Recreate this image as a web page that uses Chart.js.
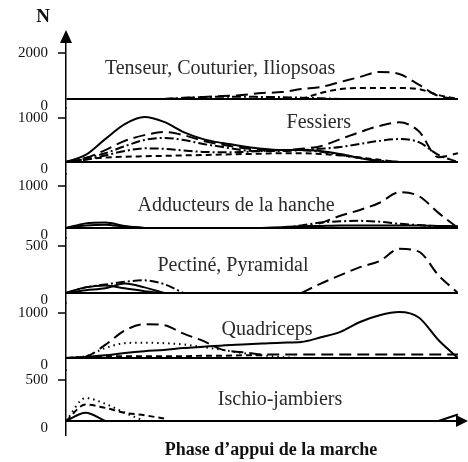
<!DOCTYPE html>
<html>
<head>
<meta charset="utf-8">
<script src="https://cdn.jsdelivr.net/npm/chart.js@4/dist/chart.umd.min.js"></script>
<style>
  html, body { margin: 0; padding: 0; background: #fff; }
  #wrap { width: 468px; height: 462px; }
</style>
</head>
<body>
<div id="wrap"><canvas id="forces" width="468" height="462"></canvas></div>
<script>
// stance phase, % (x) — muscle forces in N per panel
const phase = [0, 5, 10, 15, 20, 25, 30, 35, 40, 45, 50, 55, 60, 65, 70, 75, 80, 85, 90, 95, 100];
const muscles = ["Tenseur, Couturier, Iliopsoas", "Fessiers", "Adducteurs de la hanche",
                 "Pectiné, Pyramidal", "Quadriceps", "Ischio-jambiers"];
const tickTops = [2000, 1000, 1000, 500, 1000, 500];
const xTitle = "Phase d\u2019appui de la marche";

// Tenseur, Couturier, Iliopsoas
const tcLong    = [null, null, null, null, null, 0, 40, 90, 130, 175, 260, 300, 430, 520, 740, 960, 1175, 1090, 620, 130, 0];
const tcShort   = [null, null, null, null, null, null, null, null, null, null, null, null, 0, 260, 430, 480, 480, 480, 430, 175, 0];
const tcDashDot = [null, null, null, null, null, 0, 50, 80, 100, 100, 90, 80, 60, 30, 0, null, null, null, null, null, null];

// Fessiers
const fesSolid   = [0, 160, 520, 860, 1020, 910, 680, 520, 430, 360, 300, 270, 270, 250, 180, 90, 20, 0, null, null, null];
const fesLong    = [0, 90, 270, 480, 610, 680, 610, 480, 390, 320, 270, 270, 300, 360, 520, 680, 820, 900, 700, 110, 200];
const fesDashDot = [0, 90, 200, 360, 500, 545, 500, 410, 340, 270, 250, 250, 270, 300, 340, 410, 480, 520, 450, 160, 0];
const fesDot     = [0, 50, 150, 250, 310, 300, 260, 230, 220, 230, 250, 270, 270, 230, 160, 90, 30, 0, null, null, null];
const fesLow     = [0, 60, 100, 120, 130, 140, 150, 160, 170, 180, 190, 200, 200, 180, 150, 100, 50, 0, null, null, null];

// Adducteurs de la hanche
const addLong    = [null, null, null, null, null, null, null, null, null, null, null, null, 0, 120, 290, 430, 600, 850, 760, 360, 0];
const addDashDot = [null, null, null, null, null, null, null, null, null, null, null, 0, 60, 130, 160, 170, 150, 100, 70, 40, 0];
const addSolidA  = [0, 110, 130, 50, 0, null, null, null, null, null, null, null, null, null, null, null, null, null, null, null, null];
const addSolidB  = [0, 60, 80, 30, 0, null, null, null, null, null, null, null, null, null, null, null, null, null, null, null, null];
const addSolidC  = [null, null, null, null, null, null, null, null, null, null, 0, 20, 40, 50, 60, 60, 60, 60, 60, 50, 40];

// Pectiné, Pyramidal
const pecLong    = [null, null, null, null, null, null, null, null, null, null, null, null, 0, 100, 190, 275, 340, 470, 440, 190, 0];
const pecDashDot = [0, 60, 90, 120, 135, 95, 0, null, null, null, null, null, null, null, null, null, null, null, null, null, null];
const pecSolidA  = [0, 60, 80, 50, 20, 0, null, null, null, null, null, null, null, null, null, null, null, null, null, null, null];
const pecSolidB  = [0, 30, 50, 100, 60, 0, null, null, null, null, null, null, null, null, null, null, null, null, null, null, null];

// Quadriceps
const quadLong  = [0, 30, 290, 610, 750, 730, 540, 380, 180, 130, 80, 80, 80, 80, 80, 80, 80, 80, 80, 80, 80];
const quadDot   = [0, 40, 220, 330, 340, 330, 300, 240, 180, 110, 60, 20, 0, null, null, null, null, null, null, null, null];
const quadSolid = [0, 20, 60, 110, 150, 180, 220, 250, 280, 300, 320, 340, 355, 460, 580, 800, 950, 1020, 900, 400, 0];
const quadShort = [0, 20, 40, 40, 40, 40, 40, 50, 50, 60, 60, null, null, null, null, null, null, null, null, null, null];

// Ischio-jambiers
const ischDot   = [0, 280, 210, 100, 0, null, null, null, null, null, null, null, null, null, null, null, null, null, null, null, null];
const ischDash  = [0, 200, 160, 100, 70, 30, null, null, null, null, null, null, null, null, null, null, null, null, null, null, null];
const ischSolid = [0, 100, 0, null, null, null, null, null, null, null, null, null, null, null, null, null, null, null, null, null, null];
const ischEnd   = [null, null, null, null, null, null, null, null, null, null, null, null, null, null, null, null, null, null, null, 0, 80];

// panel ranges and heights (px) of the stacked y axes
const panelMin = [-391, -272, -238, -106, -267, -171];
const panelMax = [2478, 1226, 1285, 585, 1222, 622];
const panelHeight = [66, 66, 64, 65, 67, 65];
// where each muscle name sits: [phase %, N]
const titleAt = [[39.3, 1305], [64.5, 885], [43.4, 524], [42.6, 286], [51.3, 622], [54.6, 256]];

const SOLID = [], LONG = [12, 6], SHORT = [6, 4], DASHDOT = [9, 3, 2, 3], DOT = [1.5, 4];
const serif = "'Liberation Serif', 'DejaVu Serif', serif";

function curve(data, panel, dash) {
  return {
    data: data,
    yAxisID: "y" + panel,
    borderColor: "#000",
    borderWidth: 2,
    borderDash: dash,
    pointRadius: 0,
    cubicInterpolationMode: "monotone",
    spanGaps: false,
    fill: false
  };
}

function panelAxis(i) {
  return {
    type: "linear",
    position: "left",
    stack: "muscles",
    stackWeight: panelHeight[i],
    weight: 6 - i,
    min: panelMin[i],
    max: panelMax[i],
    afterBuildTicks: s => { s.ticks = [{ value: 0 }, { value: tickTops[i] }]; },
    afterFit: s => { s.width = 66; },
    ticks: {
      autoSkip: false,
      padding: 10,
      color: "#111",
      font: { family: serif, size: 15, lineHeight: 1 },
      callback: v => v === 0 ? ["", "0"] : String(v)
    },
    grid: {
      tickLength: 8,
      lineWidth: 2,
      tickWidth: 1.5,
      color: c => c.tick && c.tick.value === 0 ? "#000" : "rgba(0,0,0,0)",
      tickColor: c => c.tick && c.tick.value === 0 ? "rgba(0,0,0,0)" : "#000"
    },
    border: { color: "#000", width: 1.5 }
  };
}

const decor = {
  id: "decor",
  afterDraw(chart) {
    const ctx = chart.ctx;
    const xs = chart.scales.x;
    const area = chart.chartArea;
    const y6 = chart.scales.y6;
    ctx.save();
    ctx.fillStyle = "#000";
    // arrow heads on both axes
    ctx.beginPath();
    ctx.moveTo(area.left, area.top - 12);
    ctx.lineTo(area.left - 6, area.top + 1);
    ctx.lineTo(area.left + 6, area.top + 1);
    ctx.closePath();
    ctx.fill();
    const y0 = y6.getPixelForValue(0);
    ctx.beginPath();
    ctx.moveTo(area.right + 10, y0);
    ctx.lineTo(area.right - 2, y0 - 6);
    ctx.lineTo(area.right - 2, y0 + 6);
    ctx.closePath();
    ctx.fill();

    ctx.textAlign = "center";
    ctx.textBaseline = "middle";
    ctx.fillStyle = "#111";
    ctx.font = "bold 19px " + serif;
    ctx.fillText("N", area.left - 23, area.top - 25);

    ctx.fillStyle = "#2a2a2a";
    ctx.font = "20px " + serif;
    muscles.forEach((name, i) => {
      const ys = chart.scales["y" + (i + 1)];
      ctx.fillText(name, xs.getPixelForValue(titleAt[i][0]), ys.getPixelForValue(titleAt[i][1]));
    });

    ctx.fillStyle = "#111";
    ctx.font = "bold 18px " + serif;
    ctx.fillText(xTitle, xs.getPixelForValue(52.3), area.bottom + 15);
    ctx.restore();
  }
};

const scales = {
  x: {
    type: "linear",
    min: 0,
    max: 100,
    ticks: { display: false },
    grid: { display: false, drawTicks: false },
    border: { display: false },
    afterFit: s => { s.height = 27; }
  }
};
for (let i = 0; i < 6; i++) scales["y" + (i + 1)] = panelAxis(i);

new Chart(document.getElementById("forces"), {
  type: "line",
  data: {
    labels: phase,
    datasets: [
      curve(tcLong, 1, LONG), curve(tcShort, 1, SHORT), curve(tcDashDot, 1, DASHDOT),
      curve(fesSolid, 2, SOLID), curve(fesLong, 2, LONG), curve(fesDashDot, 2, DASHDOT),
      curve(fesDot, 2, DASHDOT), curve(fesLow, 2, SHORT),
      curve(addLong, 3, LONG), curve(addDashDot, 3, DASHDOT), curve(addSolidA, 3, SOLID),
      curve(addSolidB, 3, SOLID), curve(addSolidC, 3, SOLID),
      curve(pecLong, 4, LONG), curve(pecDashDot, 4, DASHDOT), curve(pecSolidA, 4, SOLID),
      curve(pecSolidB, 4, SOLID),
      curve(quadLong, 5, LONG), curve(quadDot, 5, DOT), curve(quadSolid, 5, SOLID),
      curve(quadShort, 5, SHORT),
      curve(ischDot, 6, DOT), curve(ischDash, 6, SHORT), curve(ischSolid, 6, SOLID),
      curve(ischEnd, 6, SOLID)
    ]
  },
  options: {
    responsive: false,
    animation: false,
    layout: { padding: { top: 42, right: 10, left: 0, bottom: 0 } },
    plugins: { legend: { display: false }, tooltip: { enabled: false } },
    scales: scales
  },
  plugins: [decor]
});
</script>
</body>
</html>
